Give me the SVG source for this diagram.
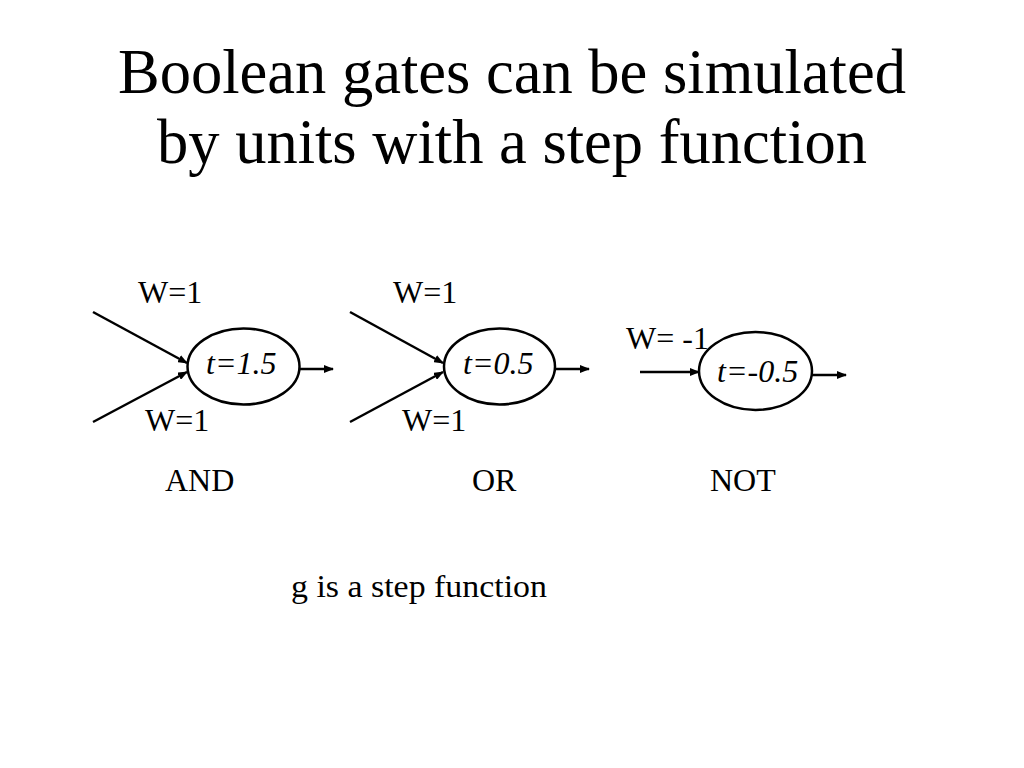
<svg xmlns="http://www.w3.org/2000/svg" width="1024" height="768" viewBox="0 0 1024 768">
<style>
text{font-family:"Liberation Serif","Times New Roman",serif;fill:#000}
.title{font-size:62.5px;text-anchor:middle}
.lbl{font-size:32px}
.it{font-size:32px;font-style:italic}
.node{fill:#fff;stroke:#000;stroke-width:2.5}
.edge{stroke:#000;stroke-width:2.5;fill:none;marker-end:url(#ah)}
</style>
<defs>
<marker id="ah" markerWidth="10" markerHeight="8" refX="9" refY="4" orient="auto" markerUnits="userSpaceOnUse">
<path d="M0,0 L10,4 L0,8 Z" fill="#000"/>
</marker>
</defs>
<rect width="1024" height="768" fill="#fff"/>
<text class="title" x="512" y="93">Boolean gates can be simulated</text>
<text class="title" x="512" y="163">by units with a step function</text>
<g id="connectors">
<line class="edge" x1="93" y1="312" x2="187" y2="363"/>
<line class="edge" x1="93" y1="422" x2="187" y2="372"/>
<line class="edge" x1="300" y1="369" x2="333" y2="369"/>
<line class="edge" x1="350" y1="312" x2="443" y2="363"/>
<line class="edge" x1="350" y1="422" x2="443" y2="372"/>
<line class="edge" x1="556" y1="369" x2="589" y2="369"/>
<line class="edge" x1="640" y1="372" x2="699" y2="372"/>
<line class="edge" x1="812" y1="375" x2="846" y2="375"/>
</g>
<g id="and">
<ellipse class="node" cx="243.5" cy="366.5" rx="56" ry="38"/>
<text class="it" x="206" y="374">t=1.5</text>
<text class="lbl" x="138" y="303">W=1</text>
<text class="lbl" x="145" y="431">W=1</text>
<text class="lbl" x="165" y="491">AND</text>
</g>
<g id="or">
<ellipse class="node" cx="499.5" cy="366.5" rx="55.5" ry="38"/>
<text class="it" x="463" y="374">t=0.5</text>
<text class="lbl" x="393" y="303">W=1</text>
<text class="lbl" x="402" y="431">W=1</text>
<text class="lbl" x="472" y="491">OR</text>
</g>
<g id="not">
<ellipse class="node" cx="755.5" cy="371" rx="56.5" ry="39"/>
<text class="it" x="717" y="382">t=-0.5</text>
<text class="lbl" x="626" y="349">W= -1</text>
<text class="lbl" x="710" y="491">NOT</text>
</g>
<text class="lbl" x="291" y="597" textLength="256" lengthAdjust="spacingAndGlyphs">g is a step function</text>
</svg>
